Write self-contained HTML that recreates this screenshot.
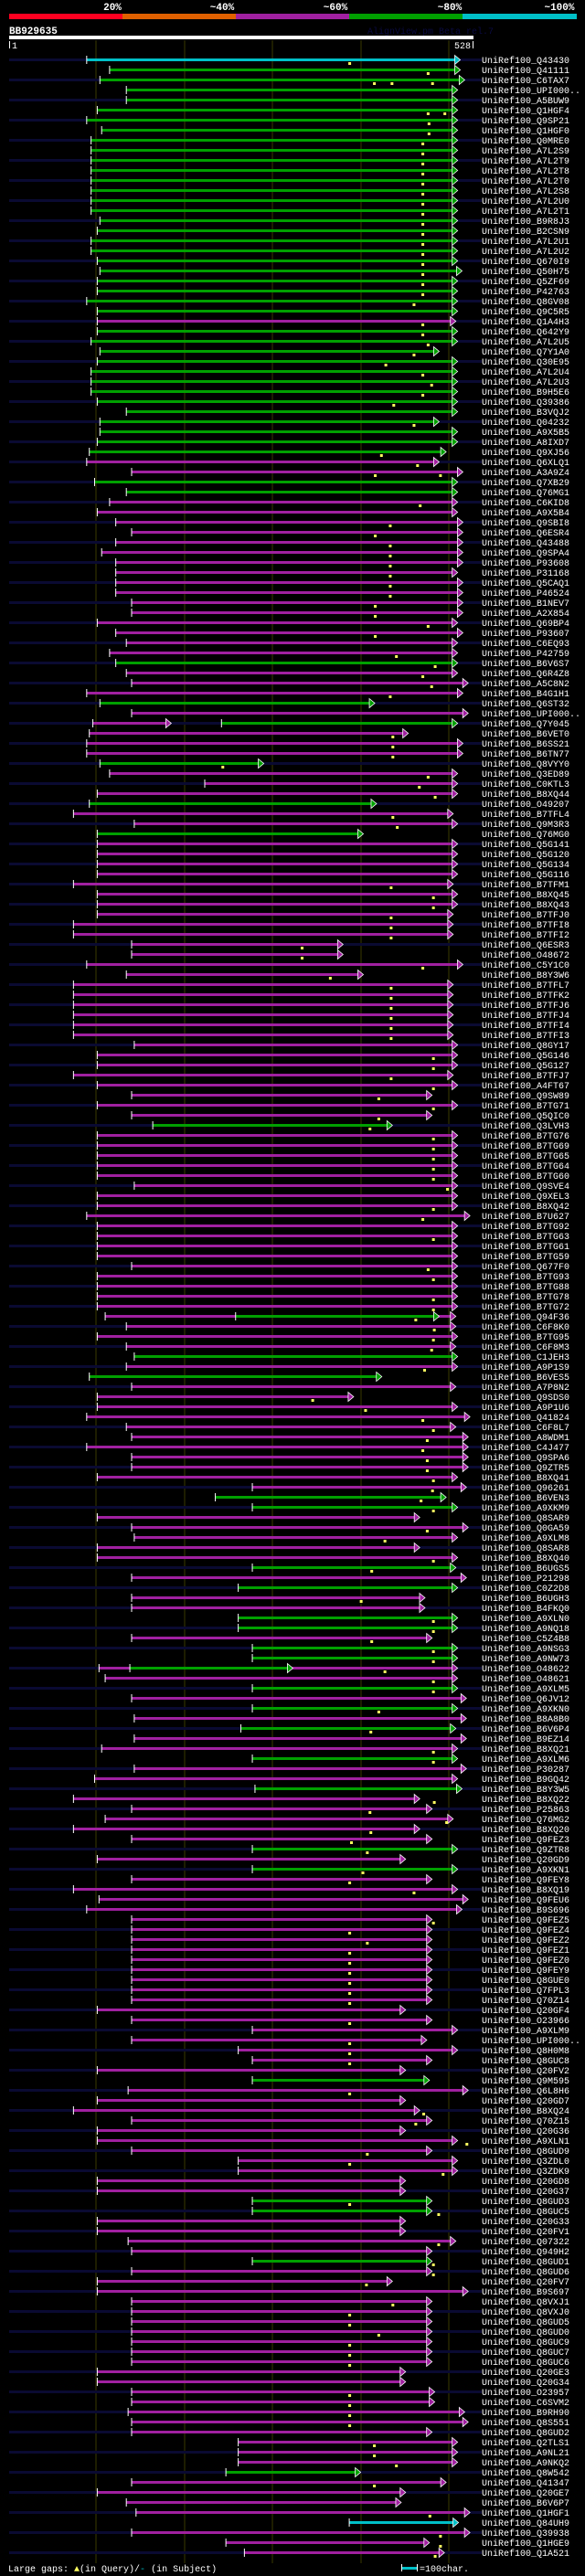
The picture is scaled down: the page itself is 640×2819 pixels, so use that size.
<!DOCTYPE html>
<html><head><meta charset="utf-8">
<style>
html,body{margin:0;padding:0;background:#000;}
body{width:640px;height:2819px;overflow:hidden;}
svg{display:block;}
text{font-family:"Liberation Mono",monospace;}
</style></head>
<body>
<svg id="chart" width="640" height="2819" viewBox="0 0 640 2819" xmlns="http://www.w3.org/2000/svg">
  <rect x="0" y="0" width="640" height="2819" fill="#000"/>
  <g>
    <rect x="10" y="15" width="124" height="6" fill="#ff0020"/>
    <rect x="134" y="15" width="124" height="6" fill="#e06000"/>
    <rect x="258" y="15" width="124" height="6" fill="#a020a0"/>
    <rect x="382" y="15" width="124" height="6" fill="#00a000"/>
    <rect x="506" y="15" width="125" height="6" fill="#00c0c8"/>
    <text x="123" y="11" fill="#fff" font-size="11" font-weight="bold" text-anchor="middle">20%</text>
    <text x="243" y="11" fill="#fff" font-size="11" font-weight="bold" text-anchor="middle">~40%</text>
    <text x="367" y="11" fill="#fff" font-size="11" font-weight="bold" text-anchor="middle">~60%</text>
    <text x="492" y="11" fill="#fff" font-size="11" font-weight="bold" text-anchor="middle">~80%</text>
    <text x="612" y="11" fill="#fff" font-size="11" font-weight="bold" text-anchor="middle">~100%</text>
  </g>
  <text x="10" y="37" fill="#fff" font-size="11" font-weight="bold">BB929635</text>
  <text x="402" y="37" fill="#0a0a40" font-size="10">AlignView.pm Beta rel.7</text>
  <rect x="10" y="39" width="508" height="4" fill="#fff"/>
  <rect x="10" y="45" width="1" height="8" fill="#fff"/>
  <text x="13" y="53" fill="#fff" font-size="10">1</text>
  <rect x="517" y="45" width="1" height="8" fill="#fff"/>
  <text x="515" y="53" fill="#fff" font-size="10" text-anchor="end">528</text>
  <g id="grid"></g>
  <g id="rows"></g>
  <g>
    <text x="9" y="2814" fill="#fff" font-size="10">Large gaps: <tspan fill="#ffff60">▲</tspan>(in Query)/<tspan fill="#00c0c8">-</tspan> (in Subject)</text>
    <rect x="439" y="2809" width="18" height="3" fill="#00c0c8"/>
    <rect x="439" y="2806" width="1" height="8" fill="#fff"/>
    <rect x="456" y="2806" width="1" height="8" fill="#fff"/>
    <text x="459" y="2814" fill="#fff" font-size="10">=100char.</text>
  </g>
</svg>
<script>
const labels = ["Q43430","Q41111","C6TAX7","UPI000..","A5BUW9","Q1HGF4","Q9SP21","Q1HGF0","Q0MRE0","A7L2S9","A7L2T9","A7L2T8","A7L2T0","A7L2S8","A7L2U0","A7L2T1","B9R8J3","B2CSN9","A7L2U1","A7L2U2","Q670I9","Q50H75","Q5ZF69","P42763","Q8GV08","Q9C5R5","Q1A4H3",
"Q642Y9","A7L2U5","Q7Y1A0","Q30E95","A7L2U4","A7L2U3","B9H5E6","Q39386","B3VQJ2","Q04232","A9X5B5","A8IXD7","Q9XJ56","Q6XLQ1","A3A9Z4","Q7XB29","Q76MG1","C6KID8","A9X5B4","Q9SBI8","Q6ESR4","Q43488","Q9SPA4","P93608","P31168","Q5CAQ1","P46524",
"B1NEV7","A2X854","Q69BP4","P93607","C6EQ93","P42759","B6V6S7","Q6R4Z8","A5C8N2","B4G1H1","Q6ST32","UPI000..","Q7Y045","B6VET0","B6SS21","B6TN77","Q8VYY0","Q3ED89","C0KTL3","B8XQ44","O49207","B7TFL4","Q9M3R3","Q76MG0","Q5G141","Q5G120","Q5G134","Q5G116",
"B7TFM1","B8XQ45","B8XQ43","B7TFJ0","B7TFI8","B7TFI2","Q6ESR3","O48672","C5Y1C0","B8Y3W6","B7TFL7","B7TFK2","B7TFJ6","B7TFJ4","B7TFI4","B7TFI3","Q8GY17","Q5G146","Q5G127","B7TFJ7","A4FT67","Q9SW89","B7TG71","Q5QIC0","Q3LVH3","B7TG76","B7TG69",
"B7TG65","B7TG64","B7TG60","Q9SVE4","Q9XEL3","B8XQ42","B7U627","B7TG92","B7TG63","B7TG61","B7TG59","Q677F0","B7TG93","B7TG88","B7TG78","B7TG72","Q94F36","C6F8K0","B7TG95","C6F8M3","C1JEH3","A9P1S9","B6VES5","A7P8N2","Q9SDS0","A9P1U6","Q41824",
"C6F8L7","A8WDM1","C4J477","Q9SPA6","Q9ZTR5","B8XQ41","Q96261","B6VEN3","A9XKM9","Q8SAR9","Q0GA59","A9XLM8","Q8SAR8","B8XQ40","B6UGS5","P21298","C0Z2D8","B6UGH3","B4FKQ0","A9XLN0","A9NQ18","C5Z4B8","A9NSG3","A9NW73","O48622","O48621","A9XLM5","Q6JV12",
"A9XKN0","B8A8B0","B6V6P4","B9EZ14","B8XQ21","A9XLM6","P30287","B9GQ42","B8Y3W5","B8XQ22","P25863","Q76MG2","B8XQ20","Q9FEZ3","Q9ZTR8","Q20GD9","A9XKN1","Q9FEY8","B8XQ19","Q9FEU6","B9S696","Q9FEZ5","Q9FEZ4","Q9FEZ2","Q9FEZ1","Q9FEZ0","Q9FEY9",
"Q8GUE0","Q7FPL3","Q70Z14","Q20GF4","O23966","A9XLM9","UPI000..","Q8H0M8","Q8GUC8","Q20FV2","Q9M595","Q6L8H6","Q20GD7","B8XQ24","Q70Z15","Q20G36","A9XLN1","Q8GUD9","Q3ZDL0","Q3ZDK9","Q20GD8","Q20G37","Q8GUD3","Q8GUC5","Q20G33","Q20FV1","Q07322",
"Q949H2","Q8GUD1","Q8GUD6","Q20FV7","B9S697","Q8VXJ1","Q8VXJ0","Q8GUD5","Q8GUD0","Q8GUC9","Q8GUC7","Q8GUC6","Q20GE3","Q20G34","O23957","C6SVM2","B9RH90","Q8S551","Q8GUD2","Q2TLS1","A9NL21","A9NKQ2","Q8W542","Q41347","Q20GE7","B6V6P7","Q1HGF1","Q84UH9","Q39938","Q1HGE9","Q1A521"];

const starts = [89,115,104,134,134,101,89,106,94,94,94,94,94,94,94,94,104,101,94,94,101,104,101,101,89,101,101,
101,94,104,101,94,94,94,101,134,104,104,101,92,89,140,98,134,115,101,122,140,122,106,122,122,122,122,
140,140,101,122,134,115,122,134,140,89,104,140,242,92,89,89,104,115,223,101,92,74,143,101,101,101,101,101,
74,101,101,101,74,74,140,140,89,134,74,74,74,74,74,74,143,101,101,74,101,140,101,140,164,101,101,
101,101,101,143,101,101,89,101,101,101,101,140,101,101,101,101,110,134,101,134,143,134,92,140,101,101,89,
134,140,89,140,140,101,277,235,277,101,140,143,101,101,277,140,261,140,140,261,261,140,277,277,103,110,277,140,
277,143,264,143,106,277,143,98,280,74,140,110,74,140,277,101,277,140,74,103,89,140,140,140,140,140,140,
140,140,140,101,140,277,140,261,277,101,277,136,101,74,140,101,101,140,261,261,101,101,277,277,101,101,136,
140,277,140,101,101,140,140,140,140,140,140,140,101,101,140,140,136,140,140,261,261,261,247,140,101,134,145,387,140,247,268];

const ends = [513,513,518,510,510,510,510,510,510,510,510,510,510,510,510,510,510,510,510,510,510,515,510,510,510,510,508,
510,510,489,510,510,510,510,510,510,489,510,510,497,489,516,510,510,510,510,516,516,516,516,516,510,516,516,
516,516,510,516,510,510,510,510,522,516,416,522,510,454,516,516,290,510,510,510,418,505,510,403,510,510,510,510,
505,510,510,505,505,505,380,380,516,403,505,505,505,505,505,505,510,510,510,505,510,481,510,481,436,510,510,
510,510,510,510,510,510,524,510,510,510,510,510,510,510,510,510,508,508,510,508,510,510,424,508,392,510,524,
508,522,522,522,522,510,520,497,510,467,522,510,467,510,508,520,510,473,473,510,510,481,510,510,510,510,510,520,
510,520,508,520,510,510,520,510,515,467,481,505,467,481,510,451,510,481,510,522,515,481,481,481,481,481,481,
481,481,481,451,481,510,475,510,481,451,478,522,451,467,481,451,510,481,510,510,451,451,481,481,451,451,508,
481,481,481,436,522,481,481,481,481,481,481,481,451,451,484,484,518,522,481,510,510,510,400,497,451,446,524,511,524,478,495];

const greenRows = [1,2,3,4,5,6,7,8,9,10,11,12,13,14,15,16,17,18,19,20,21,22,23,24,25,27,28,29,30,31,32,33,34,35,36,37,38,39,42,43,60,64,66,70,74,77,106,129,131,143,144,150,152,155,156,158,159,162,164,166,169,172,178,180,201,213,214,219,240];
const cyanRows = [0,245];

const extraRows = [66,125,160];
const extraColors = ["m","g","g"];
const extraStarts = [96,258,138];
const extraEnds = [185,489,323];

const markerRows = [0,1,2,2,2,5,5,6,7,8,9,10,11,12,13,14,15,16,17,18,19,20,21,22,23,24,26,27,28,29,30,31,32,33,34,36,39,40,41,41,44,46,47,48,49,50,51,52,53,54,55,56,57,59,60,61,62,63,67,68,69,70,71,72,73,75,76,
82,83,84,85,86,87,88,89,90,91,92,93,94,95,96,97,99,100,101,102,103,104,105,106,107,108,109,110,111,112,114,115,117,120,121,123,124,125,126,127,128,130,133,134,135,
136,137,138,139,140,141,142,143,144,146,147,149,150,153,155,156,157,158,159,160,161,162,164,166,168,169,173,174,175,176,177,178,180,181,182,185,186,187,188,189,190,
191,192,193,195,197,198,199,202,204,205,207,208,209,210,213,214,217,219,220,221,223,224,225,226,227,228,229,232,233,234,235,237,238,239,241,244,246,247,248];
const markerPos = [387,476,415,435,481,476,495,477,477,470,470,470,470,470,470,470,470,470,470,470,470,470,470,470,470,460,470,470,476,460,428,470,480,470,437,460,423,464,416,490,467,433,416,433,433,433,433,433,433,416,416,476,416,440,484,470,480,433,436,436,436,243,476,466,484,436,441,
434,482,482,434,434,434,333,333,470,365,434,434,434,434,434,434,482,482,434,482,420,482,420,410,482,482,482,482,482,498,482,470,482,476,482,482,482,462,483,482,480,472,345,405,470,
482,475,470,475,475,482,481,468,482,475,427,482,412,400,482,482,412,482,482,427,482,482,420,411,482,482,483,410,497,411,389,407,402,387,460,482,387,407,387,387,387,387,387,387,
387,387,387,387,387,471,462,520,407,387,493,387,488,488,482,482,406,436,387,387,420,387,387,387,387,387,387,387,415,415,440,415,478,490,490,484,460,475,387,462,472];

const grid = [100,200,300,400,500];

const COL = {c:"#00c0c8", g:"#00a000", m:"#a020a0"};
const NS = "http://www.w3.org/2000/svg";
function xs(v){ return 10 + (v-1)*(508/527); }
function ys(i){ return 65 + 11*i; }
function mk(tag, attrs, parent){ const e=document.createElementNS(NS,tag); for(const k in attrs) e.setAttribute(k,attrs[k]); parent.appendChild(e); return e; }

const gridG = document.getElementById("grid");
grid.forEach(function(v){
  const l = mk("rect",{x:Math.round(xs(v))-0.5,y:44,width:1,height:2761,fill:"#3a3a00"},gridG);
  
  
});

const rowsG = document.getElementById("rows");
function seg(g, color, s, e, y){
  const x1=xs(s), x2=xs(e);
  const c = COL[color];
  const ln = mk("rect",{x:x1,y:y-1,width:Math.max(0,x2-6-x1),height:3,fill:c},g);
  
  
  const tk = mk("rect",{x:x1-0.5,y:y-4,width:1,height:9,fill:"#fff"},g);
  
  
  const ar = mk("polygon",{points:(x2-6)+","+(y-4.5)+" "+x2+","+(y+0.5)+" "+(x2-6)+","+(y+5.5),fill:c,stroke:"#fff","stroke-width":"0.8"},g);
  
  
}
labels.forEach(function(lab, i){
  const y = ys(i);
  const g = mk("g",{},rowsG);
  
  
  if(i%2===0){
    const st = mk("rect",{x:10,y:y-1,width:517,height:3,fill:"#0a0a32"},g);
    
    
  }
  let color = "m";
  if(greenRows.indexOf(i)>=0) color="g";
  if(cyanRows.indexOf(i)>=0) color="c";
  seg(g, color, starts[i], ends[i], y);
  const t = mk("text",{x:527,y:y+4,fill:"#fff","font-size":"10"},g);
  t.textContent = "UniRef100_"+lab;
  
  
});
extraRows.forEach(function(r, k){
  const g = mk("g",{},rowsG);
  
  
  seg(g, extraColors[k], extraStarts[k], extraEnds[k], ys(r));
});
markerRows.forEach(function(r, k){
  const m = mk("rect",{x:xs(markerPos[k])-1,y:ys(r)+3,width:3,height:3,fill:"#ffff60"},rowsG);
  
  
});
</script>
</body></html>
